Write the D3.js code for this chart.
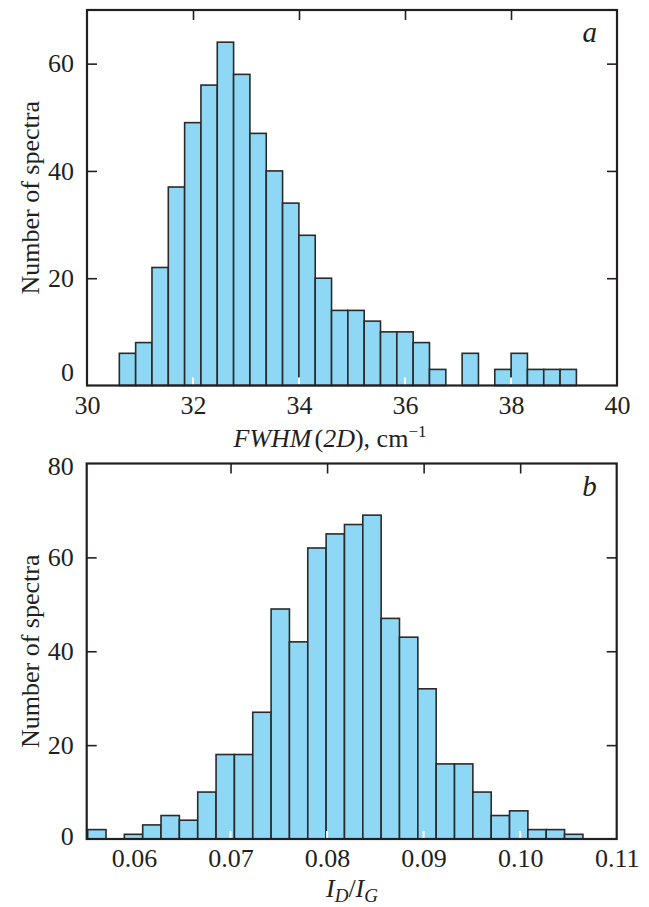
<!DOCTYPE html>
<html>
<head>
<meta charset="utf-8">
<script src="https://cdn.jsdelivr.net/npm/d3@7"></script>
<style>
  html, body { margin: 0; padding: 0; background: #fff; }
  svg { display: block; }
  text { font-family: "Liberation Serif", "Times New Roman", serif; fill: #231f20; }
</style>
</head>
<body>
<svg id="chart" width="649" height="907"></svg>
<script>
// Panel a: FWHM(2D) histogram
const fwhmBinStart = 30.61;
const fwhmBinWidth = 0.308;
const fwhmCounts = [6, 8, 22, 37, 49, 56, 64, 58, 47, 40, 34, 28, 20, 14, 14,
                    12, 10, 10, 8, 3, 0, 6, 0, 3, 6, 3, 3, 3];
const fwhmXTicks = [30, 32, 34, 36, 38, 40];
const fwhmYTicks = [0, 20, 40, 60];

// Panel b: I_D/I_G histogram
const ratioBinStart = 0.0552;
const ratioBinWidth = 0.0019;
const ratioCounts = [2, 0, 1, 3, 5, 4, 10, 18, 18, 27, 49, 42, 62, 65, 67, 69,
                     47, 43, 32, 16, 16, 10, 5, 6, 2, 2, 1];
const ratioXTicks = [0.06, 0.07, 0.08, 0.09, 0.10, 0.11];
const ratioYTicks = [0, 20, 40, 60, 80];

const svg = d3.select("#chart");
const ink = "#231f20";
const barFill = "#8fd8f5";
const tickFont = 26;

function panel(opts) {
  const g = svg.append("g");
  const x = d3.scaleLinear().domain(opts.xDomain).range([opts.left, opts.right]);
  const y = d3.scaleLinear().domain(opts.yDomain).range([opts.bottom, opts.top]);

  const bins = opts.counts.map((c, i) => ({
    x0: opts.binStart + i * opts.binWidth,
    x1: opts.binStart + (i + 1) * opts.binWidth,
    n: c
  })).filter(d => d.n > 0);

  g.append("g").selectAll("rect").data(bins).join("rect")
    .attr("x", d => x(d.x0))
    .attr("y", d => y(d.n))
    .attr("width", d => x(d.x1) - x(d.x0))
    .attr("height", d => y(0) - y(d.n))
    .attr("fill", barFill)
    .attr("stroke", "#2a2a2a")
    .attr("stroke-width", 1.6);

  // inner bottom tick marks, drawn light over the bars
  const innerX = opts.xTicks.slice(1, -1);
  g.append("g").selectAll("line").data(innerX).join("line")
    .attr("x1", d => x(d)).attr("x2", d => x(d))
    .attr("y1", opts.bottom - 1).attr("y2", opts.bottom - 8)
    .attr("stroke", "#fff").attr("stroke-width", 2);

  // frame
  g.append("rect")
    .attr("x", opts.left).attr("y", opts.top)
    .attr("width", opts.right - opts.left).attr("height", opts.bottom - opts.top)
    .attr("fill", "none").attr("stroke", ink).attr("stroke-width", 2.2);

  // top ticks (inward)
  const topAxis = g.append("g").attr("transform", `translate(0,${opts.top})`)
    .call(d3.axisTop(x).tickValues(innerX).tickSize(-10).tickFormat(""));
  topAxis.select(".domain").remove();
  topAxis.selectAll("line").attr("stroke", ink).attr("stroke-width", 1.6);

  // right ticks (inward)
  const innerY = opts.yTicks.filter(v => v > opts.yDomain[0] && v < opts.yDomain[1] - 1);
  const rightAxis = g.append("g").attr("transform", `translate(${opts.right},0)`)
    .call(d3.axisRight(y).tickValues(innerY).tickSize(-10).tickFormat(""));
  rightAxis.select(".domain").remove();
  rightAxis.selectAll("line").attr("stroke", ink).attr("stroke-width", 1.6);

  // left axis: inward ticks plus labels
  const leftAxis = g.append("g").attr("transform", `translate(${opts.left},0)`)
    .call(d3.axisLeft(y).tickValues(opts.yTicks).tickSize(-10).tickPadding(13)
      .tickFormat(d3.format("d")));
  leftAxis.select(".domain").remove();
  leftAxis.selectAll("line").attr("stroke", ink).attr("stroke-width", 1.6)
    .attr("display", d => (innerY.includes(d) ? null : "none"));
  leftAxis.selectAll("text")
    .attr("font-family", "Liberation Serif").attr("font-size", tickFont).attr("fill", ink)
    .attr("dy", d => (d === 0 ? opts.zeroDy : opts.yTopLabelDy && d === opts.yDomain[1] ? opts.yTopLabelDy : "0.32em"));

  // bottom axis labels
  const bottomAxis = g.append("g").attr("transform", `translate(0,${opts.bottom})`)
    .call(d3.axisBottom(x).tickValues(opts.xTicks).tickSize(0).tickPadding(10)
      .tickFormat(opts.xFormat));
  bottomAxis.select(".domain").remove();
  bottomAxis.selectAll("text")
    .attr("font-family", "Liberation Serif").attr("font-size", tickFont).attr("fill", ink);

  // y-axis title
  g.append("text")
    .attr("transform", `translate(${opts.yTitleX},${(opts.top + opts.bottom) / 2}) rotate(-90)`)
    .attr("text-anchor", "middle")
    .attr("font-size", 26)
    .text("Number of spectra");

  // panel letter
  g.append("text")
    .attr("x", opts.right - 20).attr("y", opts.top + 32)
    .attr("text-anchor", "end")
    .attr("font-size", 29).attr("font-style", "italic")
    .text(opts.letter);

  return { g, x, y };
}

panel({
  left: 87, right: 617, top: 10, bottom: 385.5,
  xDomain: [30, 40], yDomain: [0, 70],
  binStart: fwhmBinStart, binWidth: fwhmBinWidth, counts: fwhmCounts,
  xTicks: fwhmXTicks, yTicks: fwhmYTicks,
  xFormat: d3.format("d"),
  zeroDy: "-0.2em",
  yTitleX: 39, letter: "a"
});

panel({
  left: 86.7, right: 616.7, top: 463.5, bottom: 839,
  xDomain: [0.0551, 0.11], yDomain: [0, 80],
  binStart: ratioBinStart, binWidth: ratioBinWidth, counts: ratioCounts,
  xTicks: ratioXTicks, yTicks: ratioYTicks,
  xFormat: d3.format(".2f"),
  zeroDy: "0.2em", yTopLabelDy: "0.42em",
  yTitleX: 39, letter: "b"
});

// x-axis titles
const t1 = svg.append("text")
  .attr("x", 330).attr("y", 447)
  .attr("text-anchor", "middle").attr("font-size", 26);
t1.append("tspan").attr("font-style", "italic").text("FWHM");
t1.append("tspan").attr("dx", 3).text("(");
t1.append("tspan").attr("font-style", "italic").text("2D");
t1.append("tspan").text("), cm");
t1.append("tspan").attr("dy", -10).attr("font-size", 17).text("\u22121");

const t2 = svg.append("text")
  .attr("x", 352).attr("y", 897)
  .attr("text-anchor", "middle").attr("font-size", 26);
t2.append("tspan").attr("font-style", "italic").text("I");
t2.append("tspan").attr("font-style", "italic").attr("font-size", 19).attr("dy", 5).text("D");
t2.append("tspan").attr("dy", -5).text("/");
t2.append("tspan").attr("font-style", "italic").text("I");
t2.append("tspan").attr("font-style", "italic").attr("font-size", 19).attr("dy", 5).text("G");
</script>
</body>
</html>
